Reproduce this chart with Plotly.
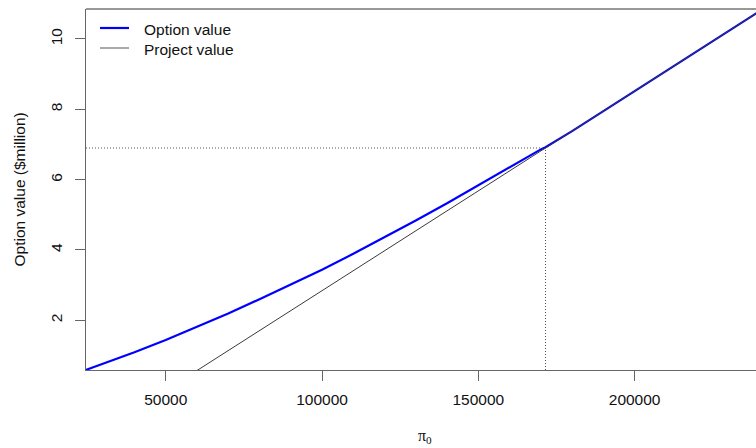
import plotly.graph_objects as go

# Operating profit level pi_0 and the value of the option to invest ($ million)
pi_option = [24500, 30000, 40000, 50000, 60000, 70000, 80000, 90000, 100000,
             110000, 120000, 130000, 140000, 150000, 160000, 170000, 171500,
             180000, 190000, 200000, 210000, 220000, 230000, 240000]
option_value = [0.59, 0.76, 1.09, 1.44, 1.81, 2.19, 2.60, 3.01, 3.44,
                3.89, 4.36, 4.84, 5.33, 5.84, 6.36, 6.86, 6.92,
                7.38, 7.95, 8.52, 9.09, 9.66, 10.22, 10.79]

# Net present value of investing immediately ($ million)
pi_project = [20000, 60000, 100000, 140000, 171500, 200000, 240000]
project_value = [-1.70, 0.57, 2.84, 5.11, 6.90, 8.52, 10.79]

# Investment threshold
pi_star = 171500
value_star = 6.90

x_range = [24500, 238830]
y_range = [0.586, 10.853]
x_ticks = [50000, 100000, 150000, 200000]
y_ticks = [2, 4, 6, 8, 10]

legend_labels = ["Option value", "Project value"]
legend_colors = ["#0000ff", "#555555"]
legend_widths = [2.2, 1]

FONT = "Liberation Sans, Arial, sans-serif"
INK = "#111111"
FS = 15.5

# plotting box in pixels
L, T, W, H = 86, 9, 670, 361

fig = go.Figure()

fig.add_trace(go.Scatter(
    x=pi_option, y=option_value, mode="lines", name=legend_labels[0],
    line=dict(color="#0000ff", width=2.2), showlegend=False,
))
fig.add_trace(go.Scatter(
    x=pi_project, y=project_value, mode="lines", name=legend_labels[1],
    line=dict(color="#3a3a3a", width=1), showlegend=False,
))

# Dotted guides to the threshold point
guide = dict(color="#555555", width=1, dash="1px,2px")
fig.add_trace(go.Scatter(
    x=[x_range[0], pi_star], y=[value_star, value_star], mode="lines",
    line=guide, showlegend=False, hoverinfo="skip",
))
fig.add_trace(go.Scatter(
    x=[pi_star, pi_star], y=[y_range[0], value_star], mode="lines",
    line=guide, showlegend=False, hoverinfo="skip",
))

axis_common = dict(
    showgrid=False, zeroline=False, showline=True, linecolor="#666666",
    linewidth=1, ticks="outside", ticklen=10, tickcolor="#666666",
    tickfont=dict(family=FONT, size=FS, color=INK),
)

fig.update_xaxes(
    range=x_range, tickvals=x_ticks, ticktext=[str(v) for v in x_ticks],
    ticklabelstandoff=5, **axis_common,
)
fig.update_yaxes(
    range=y_range, tickvals=y_ticks, ticktext=[str(v) for v in y_ticks],
    tickangle=-90, ticklabelstandoff=7, **axis_common,
)

# Top border of the plotting box
fig.add_shape(type="line", xref="paper", yref="paper", x0=0, x1=1, y0=1, y1=1,
              line=dict(color="#333333", width=1))


def px_x(px):
    return (px - L) / W


def px_y(py):
    return 1 - (py - T) / H


# Legend in the top-left corner, without a frame
for i, (label, color, width) in enumerate(zip(legend_labels, legend_colors, legend_widths)):
    yy = 28 + 20 * i
    fig.add_shape(type="line", xref="paper", yref="paper",
                  x0=px_x(100), x1=px_x(129), y0=px_y(yy), y1=px_y(yy),
                  line=dict(color=color, width=width))
    fig.add_annotation(
        text=label, xref="paper", yref="paper", x=px_x(142), y=px_y(yy + 1),
        showarrow=False, xanchor="left", yanchor="middle",
        font=dict(family=FONT, size=FS, color=INK),
    )

fig.add_annotation(
    text="Option value ($million)", xref="paper", yref="paper",
    x=px_x(19), y=0.5, textangle=-90, showarrow=False,
    xanchor="center", yanchor="middle",
    font=dict(family=FONT, size=FS, color=INK),
)
fig.add_annotation(
    text="π<sub>0</sub>", xref="paper", yref="paper",
    x=px_x(425), y=px_y(436), showarrow=False,
    xanchor="center", yanchor="middle",
    font=dict(family="Liberation Serif, Times New Roman, serif", size=16, color=INK),
)

fig.update_layout(
    width=756, height=448,
    margin=dict(l=L, r=0, t=T, b=448 - T - H),
    paper_bgcolor="white", plot_bgcolor="white",
    font=dict(family=FONT, size=FS, color=INK),
    showlegend=False,
)

fig.write_html("out.html")
